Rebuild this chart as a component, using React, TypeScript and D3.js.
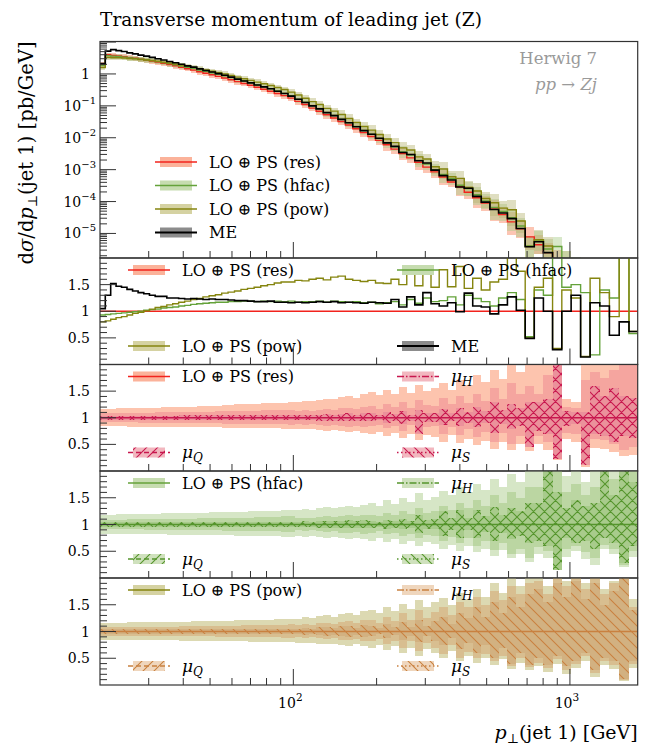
import React from "react";
import * as d3 from "d3";

// Bin edges of the leading-jet transverse momentum histogram [GeV]
const edges = [20, 20.9, 21.86, 22.86, 23.92, 25.04, 26.23, 27.47, 28.79, 30.19, 31.66, 33.22, 34.88, 36.63, 38.49, 40.46, 42.55, 44.76, 47.12, 49.61, 52.26, 55.08, 58.08, 61.27, 64.67, 68.29, 72.15, 76.26, 80.64, 85.32, 90.31, 95.64, 101.3, 107.4, 113.9, 120.9, 128.3, 136.5, 145.0, 154.2, 164.0, 174.6, 186.0, 198.2, 211.4, 225.5, 240.7, 257.1, 274.9, 294.0, 314.6, 336.8, 360.9, 386.8, 414.9, 445.2, 478.0, 513.7, 552.3, 594.3, 639.9, 689.1, 743.2, 801.8, 865.4, 934.7, 1010, 1093, 1183, 1282, 1389, 1507, 1635, 1758];

// LO (+) PS (res) differential cross section [pb/GeV]
const resXsec = [2.0, 4.0, 3.8, 3.67, 3.47, 3.24, 3.09, 2.88, 2.72, 2.54, 2.34, 2.14, 1.97, 1.80, 1.62, 1.46, 1.32, 1.17, 1.05, 0.94, 0.84, 0.745, 0.655, 0.575, 0.503, 0.44, 0.383, 0.333, 0.288, 0.245, 0.209, 0.174, 0.138, 0.110, 0.085, 0.068, 0.0525, 0.0417, 0.0324, 0.0251, 0.0191, 0.0145, 0.011, 0.0083, 0.006, 0.0044, 0.0032, 0.00234, 0.0017, 0.0012, 8.5e-4, 5.9e-4, 4.1e-4, 2.9e-4, 1.95e-4, 1.32e-4, 8.9e-5, 5.9e-5, 3.9e-5, 2.3e-5, 1.4e-5, 7.8e-6, 4.4e-6, 2.5e-6, 1.5e-6, 1.0e-6, 6.3e-7, 4e-7, 2.5e-7, 1.6e-7, 1e-7, 6.3e-8, 4e-8];

// Ratios to LO (+) PS (res)
const hfacRatio = [0.93, 0.94, 0.95, 0.96, 0.97, 0.98, 0.99, 1.00, 1.02, 1.03, 1.04, 1.06, 1.07, 1.08, 1.10, 1.11, 1.13, 1.14, 1.15, 1.16, 1.17, 1.17, 1.18, 1.18, 1.19, 1.19, 1.18, 1.19, 1.18, 1.19, 1.18, 1.19, 1.17, 1.18, 1.18, 1.19, 1.17, 1.19, 1.18, 1.17, 1.18, 1.16, 1.17, 1.14, 1.16, 1.18, 1.12, 1.22, 1.15, 1.25, 1.18, 1.20, 1.27, 1.12, 1.30, 1.24, 1.18, 1.10, 1.25, 1.35, 1.22, 0.52, 1.40, 1.30, 2.6, 1.45, 1.50, 1.35, 0.18, 1.40, 1.25, 2.8, 0.58];
const powRatio = [0.80, 0.82, 0.85, 0.88, 0.90, 0.93, 0.96, 0.98, 1.01, 1.04, 1.07, 1.09, 1.12, 1.14, 1.17, 1.19, 1.22, 1.24, 1.27, 1.29, 1.31, 1.34, 1.36, 1.38, 1.41, 1.43, 1.45, 1.48, 1.50, 1.53, 1.55, 1.55, 1.58, 1.57, 1.60, 1.62, 1.59, 1.64, 1.66, 1.60, 1.58, 1.56, 1.58, 1.53, 1.52, 1.60, 1.50, 1.77, 1.48, 1.80, 1.45, 1.78, 1.46, 1.84, 1.43, 1.62, 1.40, 1.55, 1.60, 2.4, 1.75, 0.50, 1.45, 1.62, 0.30, 1.40, 1.25, 0.15, 1.62, 1.35, 0.9, 2.6, 0.62];
const meRatio = [1.05, 1.30, 1.52, 1.47, 1.45, 1.41, 1.38, 1.35, 1.33, 1.30, 1.28, 1.28, 1.25, 1.25, 1.24, 1.23, 1.24, 1.23, 1.22, 1.23, 1.22, 1.22, 1.21, 1.20, 1.20, 1.19, 1.18, 1.18, 1.19, 1.17, 1.17, 1.16, 1.17, 1.16, 1.17, 1.18, 1.17, 1.18, 1.16, 1.17, 1.16, 1.15, 1.17, 1.16, 1.15, 1.22, 1.08, 1.27, 1.12, 1.35, 1.14, 1.10, 1.16, 0.99, 1.34, 1.10, 1.08, 0.95, 1.12, 1.27, 1.02, 0.49, 1.25, 1.00, 0.28, 1.00, 1.30, 0.14, 1.16, 1.10, 0.55, 0.80, 0.62];

// Scale-variation envelopes, relative deviations in percent (up / down):
// Env = total envelope, H = mu_H band, Hatch = mu_Q / mu_S hatched band
const resEnvUp = [17, 17, 17, 18, 18, 18, 18, 19, 19, 19, 19, 20, 20, 20, 21, 21, 21, 22, 22, 23, 23, 24, 24, 25, 25, 26, 26, 27, 27, 28, 28, 29, 30, 32, 31, 34, 36, 35, 39, 41, 38, 44, 48, 42, 52, 45, 58, 47, 62, 50, 55, 66, 52, 70, 62, 80, 68, 90, 72, 100, 85, 100, 100, 100, 100, 35, 30, 100, 100, 100, 100, 100, 100];
const resEnvDn = [16, 16, 16, 16, 16, 17, 17, 17, 17, 17, 17, 17, 17, 18, 18, 18, 18, 18, 18, 18, 18, 19, 19, 19, 19, 19, 20, 20, 20, 20, 21, 21, 21, 22, 21, 23, 24, 23, 25, 27, 24, 28, 30, 26, 34, 28, 38, 30, 42, 33, 36, 45, 32, 48, 40, 52, 44, 58, 46, 60, 50, 62, 50, 60, 80, 40, 45, 92, 56, 58, 65, 72, 70];
const resHUp = [8, 8, 8, 8, 9, 9, 9, 9, 9, 9, 10, 10, 10, 10, 10, 10, 11, 11, 11, 11, 12, 12, 12, 12, 13, 13, 13, 14, 14, 14, 15, 15, 13, 14, 13, 15, 16, 15, 18, 19, 16, 21, 22, 17, 26, 20, 30, 18, 34, 24, 22, 38, 25, 40, 28, 45, 32, 55, 35, 65, 45, 60, 45, 80, 100, 20, 18, 70, 85, 75, 90, 100, 100];
const resHDn = [8, 8, 8, 8, 8, 8, 8, 9, 9, 9, 9, 9, 9, 9, 10, 10, 10, 10, 10, 10, 10, 11, 11, 11, 11, 11, 12, 12, 12, 12, 12, 13, 12, 13, 12, 14, 15, 14, 16, 17, 15, 18, 16, 13, 20, 15, 24, 14, 28, 18, 16, 30, 18, 32, 22, 36, 26, 45, 28, 50, 35, 55, 35, 45, 78, 28, 30, 80, 40, 42, 50, 60, 55];
const resHatchUp = [4, 4, 4, 4, 4, 4, 4, 4, 4, 4, 4, 4, 4, 4, 5, 5, 5, 5, 5, 5, 5, 5, 5, 5, 5, 5, 5, 5, 5, 5, 5, 5, 5, 6, 5, 6, 7, 6, 7, 8, 6, 8, 8, 6, 10, 7, 12, 6, 14, 8, 9, 16, 8, 18, 10, 20, 12, 30, 14, 25, 18, 30, 30, 35, 100, 12, 10, 10, 60, 40, 55, 40, 38];
const resHatchDn = [4, 4, 4, 4, 4, 4, 4, 4, 4, 4, 4, 4, 4, 4, 4, 4, 4, 4, 4, 4, 4, 4, 4, 4, 4, 5, 5, 5, 5, 5, 5, 5, 5, 5, 5, 6, 6, 6, 7, 7, 6, 7, 7, 5, 9, 6, 11, 6, 30, 8, 8, 14, 7, 16, 9, 18, 10, 28, 12, 22, 16, 55, 25, 30, 78, 15, 12, 88, 30, 35, 45, 35, 38];

const hfacEnvUp = [18, 18, 18, 19, 19, 19, 19, 20, 20, 20, 20, 21, 21, 21, 21, 22, 22, 22, 22, 23, 23, 23, 24, 24, 24, 25, 25, 25, 26, 26, 27, 27, 27, 29, 28, 30, 32, 31, 33, 35, 32, 37, 40, 35, 45, 38, 50, 42, 58, 46, 52, 62, 55, 70, 60, 75, 65, 85, 70, 95, 80, 100, 100, 100, 100, 90, 100, 80, 100, 100, 100, 100, 100];
const hfacEnvDn = [17, 17, 17, 17, 17, 17, 18, 18, 18, 18, 18, 18, 19, 19, 19, 19, 19, 19, 19, 20, 20, 20, 20, 21, 21, 21, 21, 22, 22, 22, 23, 23, 22, 23, 22, 24, 25, 24, 26, 27, 25, 28, 30, 26, 33, 28, 36, 30, 40, 33, 37, 45, 38, 50, 40, 52, 45, 58, 48, 62, 55, 70, 55, 62, 85, 60, 50, 65, 75, 45, 55, 80, 60];
const hfacHUp = [9, 9, 9, 9, 9, 10, 10, 10, 10, 10, 10, 11, 11, 11, 11, 11, 11, 12, 12, 12, 12, 12, 13, 13, 13, 13, 14, 14, 14, 14, 15, 15, 12, 13, 12, 14, 15, 14, 16, 17, 15, 18, 18, 15, 22, 17, 26, 19, 30, 22, 25, 35, 28, 40, 30, 45, 35, 55, 40, 60, 50, 70, 70, 100, 100, 60, 75, 55, 70, 100, 85, 100, 100];
const hfacHDn = [9, 9, 9, 9, 9, 9, 9, 9, 10, 10, 10, 10, 10, 10, 10, 11, 11, 11, 11, 11, 11, 12, 12, 12, 12, 12, 13, 13, 13, 13, 14, 14, 11, 12, 11, 13, 14, 13, 15, 16, 14, 17, 15, 13, 18, 15, 22, 17, 26, 20, 22, 30, 24, 35, 25, 40, 30, 48, 35, 55, 45, 62, 42, 50, 85, 45, 40, 52, 62, 38, 45, 75, 50];
const hfacHatchUp = [5, 5, 5, 5, 5, 5, 5, 5, 5, 5, 5, 5, 5, 5, 5, 5, 5, 5, 5, 5, 5, 5, 5, 5, 5, 5, 5, 5, 5, 5, 5, 5, 5, 6, 5, 6, 7, 6, 7, 8, 6, 8, 7, 5, 9, 6, 10, 7, 18, 8, 10, 25, 12, 28, 12, 28, 15, 32, 18, 30, 25, 40, 40, 100, 60, 30, 45, 35, 40, 100, 55, 100, 80];
const hfacHatchDn = [5, 5, 5, 5, 5, 5, 5, 5, 5, 5, 5, 5, 5, 5, 5, 5, 5, 5, 5, 5, 5, 5, 5, 5, 5, 5, 5, 5, 5, 5, 5, 5, 5, 5, 5, 6, 6, 6, 7, 7, 6, 7, 6, 5, 8, 6, 9, 6, 16, 8, 9, 22, 10, 25, 10, 25, 14, 30, 16, 28, 22, 35, 30, 40, 85, 25, 35, 30, 45, 25, 35, 72, 40];

const powEnvUp = [16, 16, 16, 16, 16, 17, 17, 17, 17, 17, 17, 18, 18, 18, 18, 18, 19, 19, 19, 19, 20, 20, 20, 21, 21, 21, 22, 22, 22, 23, 23, 24, 24, 27, 25, 29, 30, 28, 33, 35, 31, 38, 40, 34, 46, 38, 52, 42, 58, 45, 55, 62, 50, 72, 60, 80, 65, 90, 72, 100, 85, 100, 100, 85, 100, 95, 100, 90, 100, 80, 95, 100, 60];
const powEnvDn = [15, 15, 15, 15, 15, 15, 15, 16, 16, 16, 16, 16, 16, 16, 17, 17, 17, 17, 17, 17, 17, 18, 18, 18, 18, 19, 19, 19, 19, 20, 20, 20, 21, 22, 21, 23, 24, 23, 25, 27, 24, 28, 30, 26, 35, 28, 40, 30, 45, 33, 40, 50, 36, 55, 45, 58, 50, 62, 52, 70, 58, 72, 65, 75, 60, 80, 68, 55, 85, 62, 70, 92, 68];
const powHUp = [8, 8, 8, 8, 8, 8, 8, 9, 9, 9, 9, 9, 9, 9, 10, 10, 10, 10, 10, 10, 11, 11, 11, 11, 12, 12, 12, 12, 13, 13, 13, 14, 12, 14, 12, 15, 16, 14, 18, 19, 16, 21, 22, 16, 28, 20, 34, 22, 40, 26, 36, 45, 30, 55, 45, 65, 50, 75, 58, 85, 70, 90, 95, 70, 100, 85, 100, 80, 100, 70, 90, 100, 45];
const powHDn = [8, 8, 8, 8, 8, 8, 8, 8, 8, 8, 8, 9, 9, 9, 9, 9, 9, 9, 9, 9, 10, 10, 10, 10, 10, 11, 11, 11, 11, 11, 12, 12, 11, 12, 11, 13, 14, 13, 15, 16, 14, 18, 18, 14, 24, 17, 30, 18, 36, 22, 30, 42, 25, 50, 38, 50, 42, 55, 45, 65, 50, 66, 58, 68, 52, 72, 60, 45, 78, 55, 62, 90, 60];
const powHatchUp = [5, 5, 5, 5, 5, 5, 5, 5, 5, 5, 5, 5, 5, 5, 5, 5, 5, 5, 5, 5, 5, 5, 5, 5, 5, 5, 5, 5, 5, 5, 5, 5, 5, 7, 5, 8, 9, 6, 10, 11, 7, 12, 10, 6, 14, 8, 18, 9, 22, 10, 20, 28, 14, 35, 25, 45, 28, 55, 35, 65, 45, 70, 80, 55, 90, 65, 95, 60, 90, 50, 75, 100, 40];
const powHatchDn = [5, 5, 5, 5, 5, 5, 5, 5, 5, 5, 5, 5, 5, 5, 5, 5, 5, 5, 5, 5, 5, 5, 5, 5, 5, 5, 5, 5, 5, 5, 5, 5, 5, 6, 5, 7, 8, 6, 9, 10, 6, 11, 9, 5, 12, 7, 16, 8, 20, 9, 18, 26, 12, 32, 22, 40, 25, 50, 30, 60, 40, 62, 50, 62, 45, 65, 55, 40, 72, 50, 56, 88, 55];

const xMajorTicks = [100, 1000];
const xMinorTicks = [30, 40, 50, 60, 70, 80, 90, 200, 300, 400, 500, 600, 700, 800, 900];
const ratioMajorTicks = [0.5, 1, 1.5];
const ratioTickLabels = ["0.5", "1", "1.5"];

const W = 649;
const H = 748;
const XL = 100;
const XR = 637.7;
const MAIN_TOP = 41.5;
const MAIN_BOT = 258;
const RATIO_EDGES = [258, 364.5, 471, 578, 685];
const FONT = "'DejaVu Serif', 'Liberation Serif', serif";
const AXIS = "#333";

const COL = {
  res: "#f2231d",
  resBand: "#fbb29a",
  hfac: "#64a23a",
  hfacBand: "#c6dcb0",
  pow: "#85850f",
  powBand: "#d5d2a2",
  me: "#000000",
  meBand: "#8c8c8c",
  muRes: "#c8174e",
  muHfac: "#55952c",
  muPow: "#c98140",
};

const x = d3.scaleLog().domain([20, 1758]).range([XL, XR]);
const yMain = d3.scaleLog().domain([1.7e-6, 10.4]).range([MAIN_BOT, MAIN_TOP]);

function stepPath(vals: number[], yf: (v: number) => number) {
  let d = "";
  vals.forEach((v, i) => {
    const xa = x(edges[i]);
    const xb = x(edges[i + 1]);
    const yy = yf(v);
    d += (i === 0 ? `M${xa},${yy}` : `V${yy}`) + `H${xb}`;
  });
  return d;
}

function Bars({ lo, hi, yf, fill, opacity = 1 }: { lo: number[]; hi: number[]; yf: (v: number) => number; fill: string; opacity?: number }) {
  return (
    <g fill={fill} fillOpacity={opacity} shapeRendering="crispEdges">
      {lo.map((l, i) => {
        const xa = x(edges[i]);
        const xb = x(edges[i + 1]);
        const t = yf(hi[i]);
        const b = yf(l);
        return <rect key={i} x={xa} y={t} width={xb - xa} height={Math.max(0, b - t)} />;
      })}
    </g>
  );
}

function XTicks({ bottom }: { bottom: number }) {
  return (
    <g stroke={AXIS} strokeWidth={1}>
      {xMajorTicks.map((t) => (
        <line key={"M" + t} x1={x(t)} x2={x(t)} y1={bottom} y2={bottom - 16} />
      ))}
      {xMinorTicks.map((t) => (
        <line key={"m" + t} x1={x(t)} x2={x(t)} y1={bottom} y2={bottom - 7} />
      ))}
    </g>
  );
}

function Mu({ sub }: { sub: string }) {
  return (
    <>
      <tspan fontStyle="italic" fontSize={17}>μ</tspan>
      <tspan fontStyle="italic" fontSize={12} dy={4}>{sub}</tspan>
    </>
  );
}

function LegendEntry({ x0, y, color, band, dash, hatch, label, width = 1.5 }: any) {
  return (
    <g>
      {band && <rect x={x0 + 5} y={y - 5} width={32} height={10} fill={band} />}
      {hatch && <rect x={x0 + 5} y={y - 5} width={32} height={10} fill={`url(#${hatch})`} />}
      <line x1={x0} x2={x0 + 42} y1={y} y2={y} stroke={color} strokeWidth={width} strokeDasharray={dash} />
      <text x={x0 + 54} y={y + 5.5} fontSize={16} fontFamily={FONT} fill="#000">
        {label}
      </text>
    </g>
  );
}

function hatchPattern(id: string, color: string, dir: "f" | "b" | "x") {
  const s = 11;
  const fwd = `M0,${s} L${s},0 M${-3},3 L3,${-3} M${s - 3},${s + 3} L${s + 3},${s - 3}`;
  const bwd = `M0,0 L${s},${s} M${-3},${s - 3} L3,${s + 3} M${s - 3},${-3} L${s + 3},3`;
  const d = dir === "f" ? fwd : dir === "b" ? bwd : fwd + " " + bwd;
  return (
    <pattern key={id} id={id} patternUnits="userSpaceOnUse" width={s} height={s}>
      <path d={d} stroke={color} strokeWidth={1.1} fill="none" />
    </pattern>
  );
}

type VarSpec = {
  key: string;
  label: string;
  line: string;
  lineBand: string;
  mu: string;
  envFill: string;
  hFill: string;
  hatchFill: string;
  hatchId: string;
  legendBand: string;
  envUp: number[];
  envDn: number[];
  hUp: number[];
  hDn: number[];
  qUp: number[];
  qDn: number[];
};

const varPanels: VarSpec[] = [
  {
    key: "res", label: "LO ⊕ PS (res)", line: COL.res, lineBand: COL.resBand, mu: COL.muRes,
    envFill: "#fdc4ae", hFill: "#f3a09c", hatchFill: "#e7899a", hatchId: "hatchResX", legendBand: "#f2b7bf",
    envUp: resEnvUp, envDn: resEnvDn, hUp: resHUp, hDn: resHDn, qUp: resHatchUp, qDn: resHatchDn,
  },
  {
    key: "hfac", label: "LO ⊕ PS (hfac)", line: COL.hfac, lineBand: COL.hfacBand, mu: COL.muHfac,
    envFill: "#d6e6c6", hFill: "#b6d29b", hatchFill: "#a0c682", hatchId: "hatchHfacX", legendBand: "#cfe1bd",
    envUp: hfacEnvUp, envDn: hfacEnvDn, hUp: hfacHUp, hDn: hfacHDn, qUp: hfacHatchUp, qDn: hfacHatchDn,
  },
  {
    key: "pow", label: "LO ⊕ PS (pow)", line: COL.pow, lineBand: COL.powBand, mu: COL.muPow,
    envFill: "#dcd9b2", hFill: "#d7b989", hatchFill: "#d0ab7a", hatchId: "hatchPowB", legendBand: "#efd6bd",
    envUp: powEnvUp, envDn: powEnvDn, hUp: powHUp, hDn: powHDn, qUp: powHatchUp, qDn: powHatchDn,
  },
];

function RatioYAxis({ yr }: { yr: d3.ScaleLinear<number, number> }) {
  const minors: number[] = [];
  for (let k = 1; k < 20; k++) {
    const v = k / 10;
    if (Math.abs(v - 0.5) > 1e-6 && Math.abs(v - 1) > 1e-6 && Math.abs(v - 1.5) > 1e-6) minors.push(v);
  }
  return (
    <g>
      <g stroke={AXIS} strokeWidth={1}>
        {ratioMajorTicks.map((t) => (
          <line key={t} x1={XL} x2={XL + 16} y1={yr(t)} y2={yr(t)} />
        ))}
        {minors.map((t) => (
          <line key={t} x1={XL} x2={XL + 7} y1={yr(t)} y2={yr(t)} />
        ))}
      </g>
      {ratioMajorTicks.map((t, i) => (
        <text key={t} x={90} y={yr(t) + 5} textAnchor="end" fontSize={14} fontFamily={FONT}>
          {ratioTickLabels[i]}
        </text>
      ))}
    </g>
  );
}

export default function App() {
  const hfacXsec = resXsec.map((v, i) => v * hfacRatio[i]);
  const powXsec = resXsec.map((v, i) => v * powRatio[i]);
  const meXsec = resXsec.map((v, i) => v * meRatio[i]);
  const ones = resXsec.map(() => 1);

  const ym = (v: number) => yMain(Math.max(v, 1e-8));
  const ratioY = (k: number) =>
    d3.scaleLinear().domain([0, 2]).range([RATIO_EDGES[k + 1], RATIO_EDGES[k]]);

  // main-panel log ticks
  const mainMajor = [-5, -4, -3, -2, -1, 0, 1];
  const mainMinor: number[] = [];
  for (let e = -6; e <= 1; e++) {
    for (let m = 2; m <= 9; m++) {
      const v = m * Math.pow(10, e);
      if (v >= 1.7e-6 && v <= 10.4) mainMinor.push(v);
    }
  }

  const bandMain = (vals: number[], up: number[], dn: number[]) => ({
    hi: vals.map((v, i) => v * (1 + up[i] / 100)),
    lo: vals.map((v, i) => v * (1 - dn[i] / 100)),
  });
  const resB = bandMain(resXsec, resEnvUp, resEnvDn);
  const hfacB = bandMain(hfacXsec, hfacEnvUp, hfacEnvDn);
  const powB = bandMain(powXsec, powEnvUp, powEnvDn);

  const legendMainY = [162, 185.5, 209, 232.5];

  return (
    <svg width={W} height={H} viewBox={`0 0 ${W} ${H}`} style={{ display: "block", position: "absolute", left: 0, top: 0, background: "#fff" }}>
      <defs>
        <clipPath id="clipMain">
          <rect x={XL} y={MAIN_TOP} width={XR - XL} height={MAIN_BOT - MAIN_TOP} />
        </clipPath>
        {[0, 1, 2, 3].map((k) => (
          <clipPath key={k} id={`clipR${k}`}>
            <rect x={XL} y={RATIO_EDGES[k]} width={XR - XL} height={RATIO_EDGES[k + 1] - RATIO_EDGES[k]} />
          </clipPath>
        ))}
        {hatchPattern("hatchResX", COL.muRes, "x")}
        {hatchPattern("hatchResF", COL.muRes, "f")}
        {hatchPattern("hatchResB", COL.muRes, "b")}
        {hatchPattern("hatchHfacX", COL.muHfac, "x")}
        {hatchPattern("hatchHfacF", COL.muHfac, "f")}
        {hatchPattern("hatchHfacB", COL.muHfac, "b")}
        {hatchPattern("hatchPowB", COL.muPow, "b")}
        {hatchPattern("hatchPowF", COL.muPow, "f")}
      </defs>

      {/* Title */}
      <text x={XL} y={26} fontSize={18.5} fontFamily={FONT} textLength={382}>
        Transverse momentum of leading jet (Z)
      </text>

      {/* Main panel */}
      <g clipPath="url(#clipMain)">
        <Bars lo={resB.lo} hi={resB.hi} yf={ym} fill={COL.resBand} opacity={0.75} />
        <Bars lo={hfacB.lo} hi={hfacB.hi} yf={ym} fill="#a8cb8a" opacity={0.45} />
        <Bars lo={powB.lo} hi={powB.hi} yf={ym} fill="#b9b676" opacity={0.45} />
        <path d={stepPath(resXsec, ym)} fill="none" stroke={COL.res} strokeWidth={1.4} />
        <path d={stepPath(hfacXsec, ym)} fill="none" stroke={COL.hfac} strokeWidth={1.4} />
        <path d={stepPath(powXsec, ym)} fill="none" stroke={COL.pow} strokeWidth={1.4} />
        <path d={stepPath(meXsec, ym)} fill="none" stroke={COL.me} strokeWidth={1.6} />
      </g>
      <g stroke={AXIS} strokeWidth={1}>
        {mainMajor.map((e) => (
          <line key={e} x1={XL} x2={XL + 16} y1={yMain(Math.pow(10, e))} y2={yMain(Math.pow(10, e))} />
        ))}
        {mainMinor.map((v, i) => (
          <line key={i} x1={XL} x2={XL + 7} y1={yMain(v)} y2={yMain(v)} />
        ))}
      </g>
      {mainMajor
        .filter((e) => e <= 0)
        .map((e) =>
          e === 0 ? (
            <text key={e} x={90} y={yMain(1) + 5} textAnchor="end" fontSize={14} fontFamily={FONT}>
              1
            </text>
          ) : (
            <text key={e} x={96} y={yMain(Math.pow(10, e)) + 5} textAnchor="end" fontSize={14} fontFamily={FONT}>
              10
              <tspan fontSize={10} dy={-7}>
                {"−" + Math.abs(e)}
              </tspan>
            </text>
          )
        )}
      <XTicks bottom={MAIN_BOT} />
      <text x={597} y={64} textAnchor="end" fontSize={16.5} fontFamily={FONT} fill="#9a9a9a">
        Herwig 7
      </text>
      <text x={597} y={90} textAnchor="end" fontSize={16.5} fontFamily={FONT} fill="#9a9a9a" fontStyle="italic">
        pp → Zj
      </text>
      <LegendEntry x0={155} y={legendMainY[0]} color={COL.res} band={COL.resBand} label="LO ⊕ PS (res)" />
      <LegendEntry x0={155} y={legendMainY[1]} color={COL.hfac} band={COL.hfacBand} label="LO ⊕ PS (hfac)" />
      <LegendEntry x0={155} y={legendMainY[2]} color={COL.pow} band={COL.powBand} label="LO ⊕ PS (pow)" />
      <LegendEntry x0={155} y={legendMainY[3]} color={COL.me} band={COL.meBand} label="ME" width={1.8} />
      <rect x={XL} y={MAIN_TOP} width={XR - XL} height={MAIN_BOT - MAIN_TOP} fill="none" stroke={AXIS} strokeWidth={1.2} />

      {/* Ratio panel: all predictions relative to LO (+) PS (res) */}
      {(() => {
        const yr = ratioY(0);
        const yf = (v: number) => yr(Math.max(-0.3, Math.min(2.3, v)));
        const top = RATIO_EDGES[0];
        return (
          <g>
            <g clipPath="url(#clipR0)">
              <path d={stepPath(ones, yf)} fill="none" stroke={COL.res} strokeWidth={1.4} />
              <path d={stepPath(hfacRatio, yf)} fill="none" stroke={COL.hfac} strokeWidth={1.4} />
              <path d={stepPath(powRatio, yf)} fill="none" stroke={COL.pow} strokeWidth={1.4} />
              <path d={stepPath(meRatio, yf)} fill="none" stroke={COL.me} strokeWidth={1.6} />
            </g>
            <RatioYAxis yr={yr} />
            <XTicks bottom={RATIO_EDGES[1]} />
            <LegendEntry x0={128} y={top + 12} color={COL.res} band={COL.resBand} label="LO ⊕ PS (res)" />
            <LegendEntry x0={397} y={top + 12} color={COL.hfac} band={COL.hfacBand} label="LO ⊕ PS (hfac)" />
            <LegendEntry x0={128} y={top + 88} color={COL.pow} band={COL.powBand} label="LO ⊕ PS (pow)" />
            <LegendEntry x0={397} y={top + 88} color={COL.me} band={COL.meBand} label="ME" width={1.8} />
            <rect x={XL} y={top} width={XR - XL} height={RATIO_EDGES[1] - top} fill="none" stroke={AXIS} strokeWidth={1.2} />
          </g>
        );
      })()}

      {/* Scale-variation panels */}
      {varPanels.map((p, j) => {
        const k = j + 1;
        const yr = ratioY(k);
        const yf = (v: number) => yr(Math.max(-0.3, Math.min(2.3, v)));
        const top = RATIO_EDGES[k];
        const bot = RATIO_EDGES[k + 1];
        const up = (a: number[]) => a.map((v) => 1 + v / 100);
        const dn = (a: number[]) => a.map((v) => 1 - v / 100);
        const fwdId = p.key === "res" ? "hatchResF" : p.key === "hfac" ? "hatchHfacF" : "hatchPowF";
        const bwdId = p.key === "res" ? "hatchResB" : p.key === "hfac" ? "hatchHfacB" : "hatchPowB";
        return (
          <g key={p.key}>
            <g clipPath={`url(#clipR${k})`}>
              <Bars lo={dn(p.envDn)} hi={up(p.envUp)} yf={yf} fill={p.envFill} />
              <Bars lo={dn(p.hDn)} hi={up(p.hUp)} yf={yf} fill={p.hFill} opacity={0.85} />
              <Bars lo={dn(p.qDn)} hi={up(p.qUp)} yf={yf} fill={p.hatchFill} opacity={0.7} />
              <Bars lo={dn(p.qDn)} hi={up(p.qUp)} yf={yf} fill={`url(#${p.hatchId})`} />
              <path d={stepPath(ones, yf)} fill="none" stroke={p.mu} strokeWidth={1.5} />
            </g>
            <RatioYAxis yr={yr} />
            <XTicks bottom={bot} />
            <LegendEntry x0={128} y={top + 12} color={p.line} band={p.lineBand} label={p.label} />
            <LegendEntry x0={397} y={top + 12} color={p.mu} band={p.legendBand} dash="7,2,1.5,2" label={<Mu sub="H" />} width={1.3} />
            <LegendEntry x0={128} y={top + 88} color={p.mu} band={p.legendBand} hatch={fwdId} dash="5,3" label={<Mu sub="Q" />} width={1.3} />
            <LegendEntry x0={397} y={top + 88} color={p.mu} band={p.legendBand} hatch={bwdId} dash="1.5,2.5" label={<Mu sub="S" />} width={1.3} />
            <rect x={XL} y={top} width={XR - XL} height={bot - top} fill="none" stroke={AXIS} strokeWidth={1.2} />
          </g>
        );
      })}

      {/* x-axis labels */}
      {xMajorTicks.map((t) => (
        <text key={t} x={x(t) - 3} y={708} textAnchor="middle" fontSize={14} fontFamily={FONT}>
          10
          <tspan fontSize={10.5} dy={-7}>
            {String(Math.round(Math.log10(t)))}
          </tspan>
        </text>
      ))}
      <text x={XR} y={739} textAnchor="end" fontSize={19} fontFamily={FONT}>
        <tspan fontStyle="italic">p</tspan>
        <tspan fontSize={13} dy={4}>⊥</tspan>
        <tspan dy={-4}>(jet 1) [GeV]</tspan>
      </text>

      {/* y-axis label */}
      <text transform={`translate(33,${MAIN_TOP}) rotate(-90)`} textAnchor="end" fontSize={19.5} fontFamily={FONT}>
        d<tspan fontStyle="italic">σ</tspan>/d<tspan fontStyle="italic">p</tspan>
        <tspan fontSize={13} dy={4}>⊥</tspan>
        <tspan dy={-4}>(jet 1) [pb/GeV]</tspan>
      </text>
    </svg>
  );
}
